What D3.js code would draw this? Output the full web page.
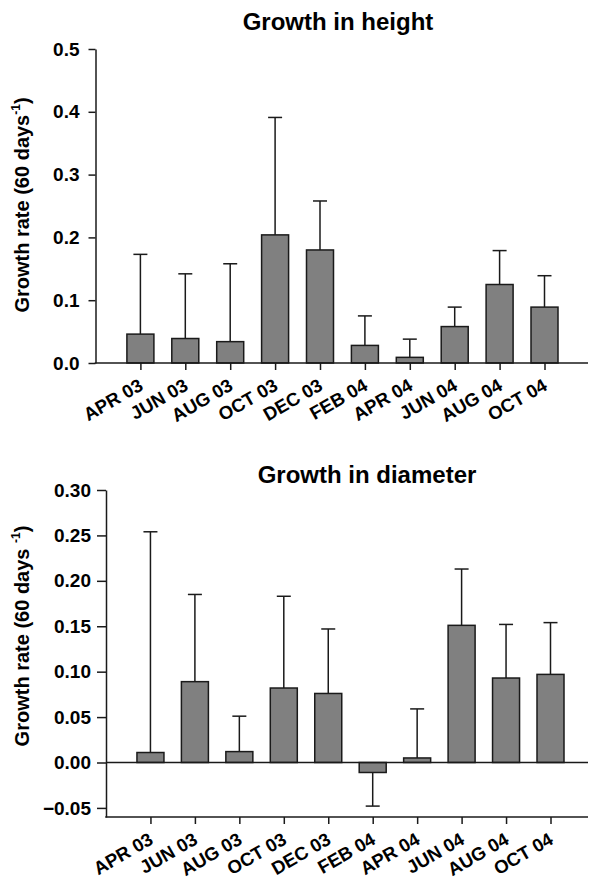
<!DOCTYPE html>
<html>
<head>
<meta charset="utf-8">
<script src="https://cdn.jsdelivr.net/npm/d3@7"></script>
<style>
  html, body { margin: 0; padding: 0; background: #fff; }
  svg { display: block; font-family: "Liberation Sans", Arial, Helvetica, sans-serif; }
</style>
</head>
<body>
<svg id="chart" width="589" height="877"></svg>
<script>
// ---- data ----
const categories = ["APR 03", "JUN 03", "AUG 03", "OCT 03", "DEC 03", "FEB 04", "APR 04", "JUN 04", "AUG 04", "OCT 04"];

const heightMeans = [0.046, 0.039, 0.034, 0.204, 0.180, 0.028, 0.009, 0.058, 0.125, 0.089];
const heightErrors = [0.127, 0.103, 0.124, 0.187, 0.078, 0.047, 0.029, 0.031, 0.054, 0.050];
const heightTicks = [0.0, 0.1, 0.2, 0.3, 0.4, 0.5];

const diameterMeans = [0.011, 0.089, 0.012, 0.082, 0.076, -0.011, 0.005, 0.151, 0.093, 0.097];
const diameterErrors = [0.243, 0.096, 0.039, 0.101, 0.071, 0.037, 0.054, 0.062, 0.059, 0.057];
const diameterTicks = [-0.05, 0.00, 0.05, 0.10, 0.15, 0.20, 0.25, 0.30];

// ---- drawing ----
const svg = d3.select("#chart");
const INK = "#1a1a1a";

function panel(opts) {
  const g = svg.append("g");
  const x = d3.scalePoint().domain(categories).range([opts.x0 + opts.step, opts.x0 + 10 * opts.step]);
  const y = d3.scaleLinear().domain(opts.yDomain).range([opts.yBottom, opts.yTop]);
  const barW = 27, capW = 14;
  const data = categories.map((c, i) => ({ c, m: opts.means[i], e: opts.errors[i] }));

  // title
  g.append("text").attr("x", opts.titleX).attr("y", opts.titleY)
    .attr("text-anchor", "middle").attr("font-size", 24).attr("font-weight", "bold")
    .attr("fill", "#000").text(opts.title);

  // error bars (drawn under bars)
  const eb = g.append("g").attr("stroke", INK).attr("stroke-width", 1.5).attr("fill", "none");
  data.forEach(d => {
    const end = d.m >= 0 ? d.m + d.e : d.m - d.e;
    eb.append("line").attr("x1", x(d.c)).attr("x2", x(d.c)).attr("y1", y(d.m)).attr("y2", y(end));
    eb.append("line").attr("x1", x(d.c) - capW / 2).attr("x2", x(d.c) + capW / 2).attr("y1", y(end)).attr("y2", y(end));
  });

  // bars
  g.append("g").selectAll("rect").data(data).join("rect")
    .attr("x", d => x(d.c) - barW / 2)
    .attr("width", barW)
    .attr("y", d => y(Math.max(0, d.m)))
    .attr("height", d => Math.abs(y(d.m) - y(0)))
    .attr("fill", "#808080").attr("stroke", INK).attr("stroke-width", 1.5);

  // zero line (if different from bottom)
  if (opts.yDomain[0] < 0) {
    g.append("line").attr("x1", opts.x0).attr("x2", opts.xEnd).attr("y1", y(0)).attr("y2", y(0))
      .attr("stroke", INK).attr("stroke-width", 1.5);
  }

  // y axis
  const ya = g.append("g").attr("transform", `translate(${opts.x0},0)`)
    .call(d3.axisLeft(y).tickValues(opts.ticks).tickFormat(d3.format(opts.fmt))
      .tickSize(opts.tickLenY).tickSizeOuter(0).tickPadding(opts.tickPadY));
  ya.select(".domain").attr("stroke", INK).attr("stroke-width", 1.5);
  ya.selectAll(".tick line").attr("stroke", INK).attr("stroke-width", 1.5);
  ya.selectAll(".tick text").attr("font-size", 19).attr("font-weight", "bold").attr("fill", "#000")
    .attr("font-family", "Liberation Sans, Arial, sans-serif");

  // x axis
  g.append("line").attr("x1", opts.x0 - 0.75).attr("x2", opts.xEnd).attr("y1", opts.yBottom).attr("y2", opts.yBottom)
    .attr("stroke", INK).attr("stroke-width", 1.5);
  const xa = g.append("g").attr("transform", `translate(0,${opts.yBottom})`)
    .call(d3.axisBottom(x).tickSize(7).tickSizeOuter(0).tickFormat(""));
  xa.select(".domain").remove();
  xa.selectAll(".tick line").attr("stroke", INK).attr("stroke-width", 1.5);
  g.append("g").selectAll("text").data(categories).join("text")
    .attr("transform", c => `translate(${x(c) + 4},${opts.yBottom + 26}) rotate(-30)`)
    .attr("text-anchor", "end").attr("font-size", 18.5).attr("font-weight", "bold").attr("fill", "#000")
    .text(c => c);

  // y label
  const yl = g.append("text")
    .attr("transform", `translate(${opts.labelX},${opts.labelY}) rotate(-90)`)
    .attr("text-anchor", "middle").attr("font-size", 20).attr("font-weight", "bold").attr("fill", "#000");
  yl.append("tspan").text(opts.labelText);
  yl.append("tspan").attr("font-size", 12).attr("dy", -9).text("-1");
  yl.append("tspan").attr("dy", 9).text(")");
}

panel({
  title: "Growth in height", titleX: 338, titleY: 30,
  means: heightMeans, errors: heightErrors, ticks: heightTicks, fmt: ".1f",
  x0: 95.5, step: 44.9, xEnd: 588,
  yDomain: [0, 0.5], yBottom: 363, yTop: 49,
  tickLenY: 7, tickPadY: 9,
  labelX: 28.5, labelY: 205, labelText: "Growth rate (60 days"
});

panel({
  title: "Growth in diameter", titleX: 367, titleY: 483,
  means: diameterMeans, errors: diameterErrors, ticks: diameterTicks, fmt: ".2f",
  x0: 106, step: 44.45, xEnd: 588,
  yDomain: [-0.06, 0.30], yBottom: 817, yTop: 490,
  tickLenY: 9, tickPadY: 6,
  labelX: 29, labelY: 636, labelText: "Growth rate (60 days "
});
</script>
</body>
</html>
